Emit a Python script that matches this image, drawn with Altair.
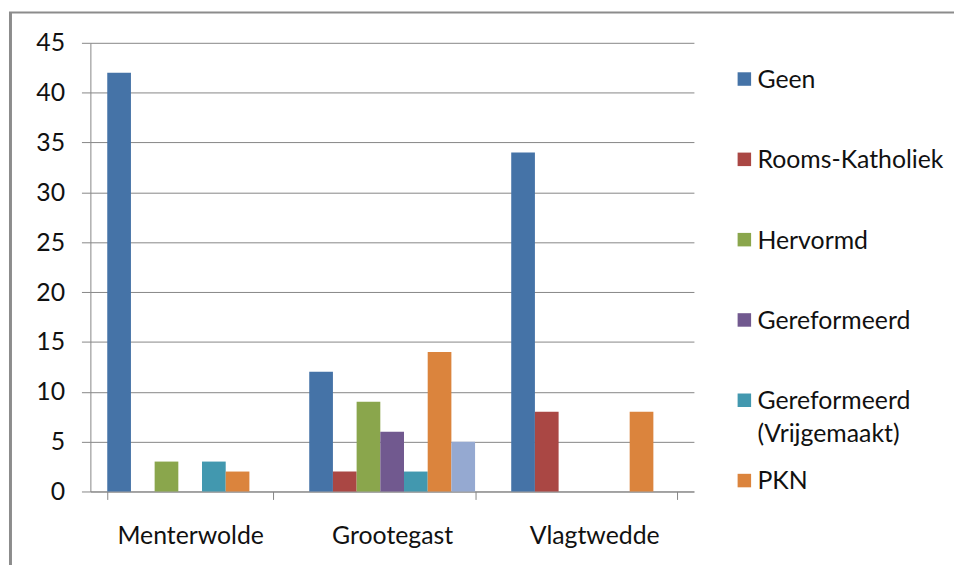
import altair as alt
import pandas as pd

# --- data ---
categories = ["Menterwolde", "Grootegast", "Vlagtwedde"]
series = ["Geen", "Rooms-Katholiek", "Hervormd", "Gereformeerd",
          "Gereformeerd (Vrijgemaakt)", "PKN", "Overig"]
colors = ["#4573A7", "#AA4744", "#8AA64C", "#71598F", "#4298AF", "#DB843D", "#95A9D1"]

menterwolde = [42, 0, 3, 0, 3, 2, 0]
grootegast = [12, 2, 9, 6, 2, 14, 5]
vlagtwedde = [34, 8, 0, 0, 0, 8, 0]

y_ticks = [0, 5, 10, 15, 20, 25, 30, 35, 40, 45]
legend_items = series[:6]
legend_labels = ["Geen", "Rooms-Katholiek", "Hervormd", "Gereformeerd",
                 "Gereformeerd\n(Vrijgemaakt)", "PKN"]

rows = []
for cat, vals in zip(categories, [menterwolde, grootegast, vlagtwedde]):
    for s, v in zip(series, vals):
        rows.append({"Gemeente": cat, "Kerk": s, "Aantal": v})
df = pd.DataFrame(rows)
legend_df = pd.DataFrame({"Kerk": legend_items, "Label": legend_labels})

FONT = "Lato"
GRID = "#868686"
TEXT = "#111111"
FS = 25

color_scale = alt.Scale(domain=series, range=colors)

bars = alt.Chart(df).mark_bar().encode(
    x=alt.X(
        "Gemeente:N",
        sort=categories,
        scale=alt.Scale(paddingInner=0.179, paddingOuter=0.0835),
        axis=alt.Axis(
            title=None, labelAngle=0, tickBand="extent", grid=False,
            domainColor=GRID, tickColor=GRID, tickSize=8, domainWidth=1,
            labelFontSize=FS, labelColor=TEXT, labelPadding=24,
            labelBaseline="top", labelFont=FONT,
        ),
    ),
    xOffset=alt.XOffset("Kerk:N", sort=series,
                        scale=alt.Scale(paddingInner=0, paddingOuter=0)),
    y=alt.Y(
        "Aantal:Q",
        scale=alt.Scale(domain=[0, 45], nice=False),
        axis=alt.Axis(
            title=None, values=y_ticks, grid=True, gridColor=GRID, gridWidth=1,
            domainColor=GRID, tickColor=GRID, tickSize=9,
            labelFontSize=FS, labelColor=TEXT, labelPadding=17, labelFont=FONT,
        ),
    ),
    color=alt.Color("Kerk:N", sort=series, scale=color_scale, legend=None),
)

# legend (entries spaced by a point scale, colours from the shared colour scale)
legend_y = alt.Y("Kerk:N", sort=legend_items,
                 scale=alt.Scale(type="point", domain=legend_items,
                                 range=[36.5, 441], padding=0),
                 axis=None)
legend_squares = alt.Chart(legend_df).mark_square(size=185, opacity=1, strokeWidth=0).encode(
    x=alt.value(658.8),
    y=legend_y,
    color=alt.Color("Kerk:N", sort=series, scale=color_scale, legend=None),
)
legend_text = alt.Chart(legend_df).mark_text(
    align="left", baseline="top", dy=-11, fontSize=FS, lineHeight=33,
    lineBreak="\n", color=TEXT, font=FONT,
).encode(
    x=alt.value(672),
    y=legend_y,
    text="Label:N",
)

frame = alt.Data(values=[{"k": 1}])
left_border = alt.Chart(frame).mark_rule(color="#8c8c8c", strokeWidth=3).encode(
    x=alt.value(-80.5), y=alt.value(-31), y2=alt.value(600)
)
top_border = alt.Chart(frame).mark_rule(color="#8c8c8c", strokeWidth=2).encode(
    x=alt.value(-82), x2=alt.value(900), y=alt.value(-30.5)
)

chart = alt.layer(
    bars, legend_squares, legend_text, left_border, top_border
).resolve_scale(y="independent").properties(
    width=608,
    height=452,
    autosize=alt.AutoSizeParams(type="none"),
    padding={"left": 83, "top": 33, "right": 262, "bottom": 72},
).configure(font=FONT).configure_view(stroke=None)

chart.save("out.html", embed_options={"renderer": "svg", "actions": False})
